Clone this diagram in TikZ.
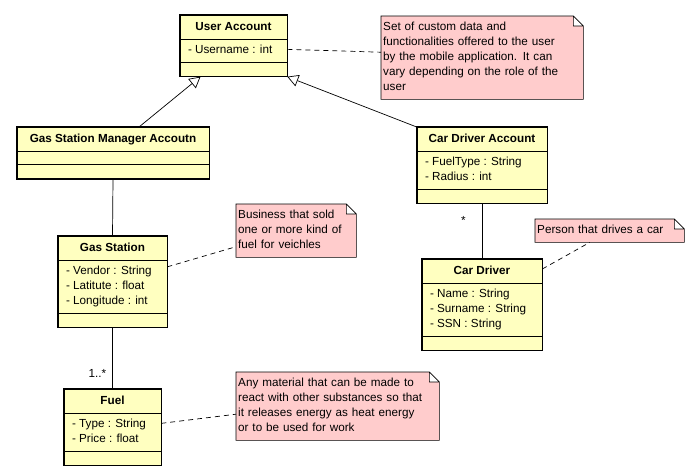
\documentclass[tikz,border=0pt]{standalone}
\usepackage{fontspec}
\setmainfont{Liberation Sans}
\usepackage{xcolor}
\usetikzlibrary{shapes.multipart,arrows.meta,backgrounds}
\definecolor{classyellow}{RGB}{255,255,192}
\definecolor{notepink}{RGB}{255,204,204}
\newcommand{\attr}[1]{\strut- #1}
\tikzset{
  umlclass/.style={rectangle split, rectangle split parts=3, draw, line width=0.6pt,
    fill=classyellow, font=\fontsize{11.7}{15}\selectfont,
    rectangle split part align={center,left,left}, inner xsep=8pt, inner ysep=4pt,
    rectangle split empty part height=3pt, rectangle split empty part depth=0pt, anchor=north},
  umlnote/.style={font=\fontsize{11.7}{15}\selectfont, align=left, inner xsep=2pt, inner ysep=4pt,
    execute at begin node=\strut, execute at end node=\strut, anchor=north west},
  gen/.style={line width=0.7pt, -{Triangle[open, length=11pt, width=12pt]}},
  assoc/.style={line width=0.7pt},
  noteline/.style={line width=0.7pt, dash pattern=on 5pt off 4pt},
  mult/.style={font=\fontsize{11.7}{15}\selectfont, inner sep=2pt}
}
\begin{document}
\begin{tikzpicture}[x=1pt, y=-1pt]
  \useasboundingbox (0,0) rectangle (697,475);

  \node[umlclass, minimum width=107pt] (ua) at (233.5,15)
    {\textbf{User Account}\strut \nodepart{two} \attr{Username : int} \nodepart{three}};
  \node[umlclass, minimum width=192pt, rectangle split empty part height=1pt] (gsma) at (113,127)
    {\textbf{Gas Station Manager Accoutn}\strut \nodepart{two} \nodepart{three}};
  \node[umlclass, align=left, minimum width=130pt] (cda) at (482,127)
    {\textbf{Car Driver Account}\strut \nodepart{two} \attr{FuelType : String}\\\attr{Radius : int} \nodepart{three}};
  \node[umlclass, align=left, minimum width=109pt] (gs) at (112.5,236)
    {\textbf{Gas Station}\strut \nodepart{two} \attr{Vendor : String}\\\attr{Latitute : float}\\\attr{Longitude : int} \nodepart{three}};
  \node[umlclass, align=left, minimum width=97pt] (fuel) at (112.5,389)
    {\textbf{Fuel}\strut \nodepart{two} \attr{Type : String}\\\attr{Price : float} \nodepart{three}};
  \node[umlclass, align=left, minimum width=120pt] (cd) at (482,259)
    {\textbf{Car Driver}\strut \nodepart{two} \attr{Name : String}\\\attr{Surname : String}\\\attr{SSN : String} \nodepart{three}};

  % thick outer border of the classes
  \foreach \c in {ua,gsma,cda,gs,fuel,cd}
    \draw[line width=1.6pt] (\c.north west) rectangle (\c.south east);

  \node[umlnote, text width=198pt] (nua) at (381,16)
    {Set of custom data and\\functionalities offered to the user\\by the mobile application. It can\\vary depending on the role of the\\user};
  \node[umlnote, text width=116pt] (ngs) at (236,204)
    {Business that sold\\one or more kind of\\fuel for veichles};
  \node[umlnote, text width=199pt] (nfuel) at (236,372)
    {Any material that can be made to\\react with other substances so that\\it releases energy as heat energy\\or to be used for work};
  \node[umlnote, text width=145pt] (ncd) at (535,219)
    {Person that drives a car};

  % note shapes with folded corner
  \begin{scope}[on background layer]
    \foreach \n in {nua,ngs,nfuel,ncd}
      \draw[fill=notepink, line width=0.6pt] (\n.south west) -- (\n.north west)
        -- ([xshift=-10pt]\n.north east) -- ([yshift=-10pt]\n.north east) -- (\n.south east) -- cycle
        ([xshift=-10pt]\n.north east) |- ([yshift=-10pt]\n.north east);
  \end{scope}

  \draw[gen] ([xshift=26pt]gsma.north) -- ([xshift=-33pt]ua.south);
  \draw[gen] (cda.north west) -- (ua.south east);

  \draw[assoc] (gsma.south) -- (gs.north);
  \draw[assoc] (gs.south) -- node[mult, near end, left=4pt] {1..*} (fuel.north);
  \draw[assoc] (cda.south) -- node[mult, pos=0.3, left=14pt] {*} (cd.north);

  \draw[noteline] ([yshift=-3.5pt]ua.east) -- ([yshift=5.5pt]nua.west);
  \draw[noteline] ([yshift=15pt]gs.east) -- ([yshift=-16pt]ngs.west);
  \draw[noteline] ([yshift=4pt]fuel.east) -- ([yshift=-8pt]nfuel.west);
  \draw[noteline] ([yshift=-10pt]cd.north east) -- ([xshift=-20pt]ncd.south);
\end{tikzpicture}
\end{document}
